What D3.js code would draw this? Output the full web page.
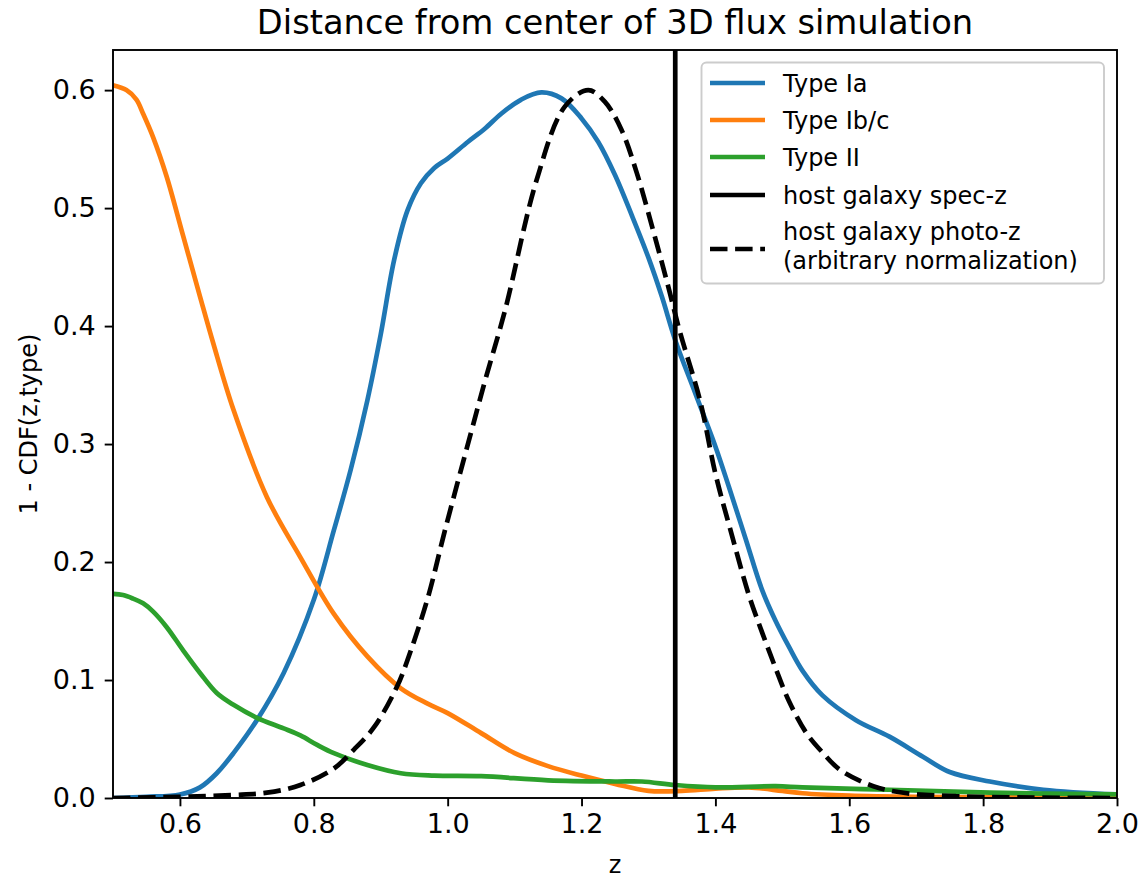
<!DOCTYPE html>
<html>
<head>
<meta charset="utf-8">
<script src="https://cdn.jsdelivr.net/npm/d3@7"></script>
<style>
  html, body { margin: 0; padding: 0; background: #fff; }
  svg { display: block; font-family: "DejaVu Sans", sans-serif; }
</style>
</head>
<body>
<svg id="chart" width="1141" height="879"></svg>
<script>
// ---------------- data ----------------
const titleText = "Distance from center of 3D flux simulation";
const xLabel = "z";
const yLabel = "1 - CDF(z,type)";
const xTicks = [0.6, 0.8, 1.0, 1.2, 1.4, 1.6, 1.8, 2.0];
const yTicks = [0.0, 0.1, 0.2, 0.3, 0.4, 0.5, 0.6];
const specZ = 1.34;

const zIa = [0.50, 0.55, 0.60, 0.63, 0.655, 0.68, 0.715, 0.755, 0.80, 0.83, 0.855, 0.88, 0.90, 0.92, 0.94, 0.96, 0.98, 1.00, 1.03, 1.055, 1.08, 1.11, 1.14, 1.17, 1.20, 1.225, 1.25, 1.275, 1.30, 1.32, 1.34, 1.37, 1.40, 1.42, 1.445, 1.47, 1.49, 1.51, 1.53, 1.56, 1.61, 1.66, 1.71, 1.75, 1.81, 1.89, 2.00];
const vIa = [0.000, 0.001, 0.003, 0.009, 0.021, 0.038, 0.066, 0.106, 0.168, 0.227, 0.278, 0.337, 0.393, 0.456, 0.498, 0.521, 0.534, 0.542, 0.556, 0.567, 0.580, 0.592, 0.598, 0.593, 0.576, 0.556, 0.528, 0.494, 0.458, 0.425, 0.388, 0.343, 0.298, 0.264, 0.220, 0.176, 0.150, 0.128, 0.108, 0.087, 0.066, 0.052, 0.035, 0.022, 0.014, 0.007, 0.003];

const zIbc = [0.50, 0.52, 0.535, 0.545, 0.56, 0.58, 0.605, 0.63, 0.65, 0.68, 0.73, 0.78, 0.83, 0.88, 0.93, 0.97, 1.00, 1.05, 1.10, 1.15, 1.20, 1.25, 1.30, 1.35, 1.40, 1.45, 1.50, 1.53, 1.60, 1.70, 2.00];
const vIbc = [0.604, 0.600, 0.592, 0.580, 0.560, 0.527, 0.476, 0.425, 0.385, 0.329, 0.255, 0.204, 0.156, 0.120, 0.093, 0.080, 0.072, 0.055, 0.038, 0.027, 0.019, 0.012, 0.006, 0.006, 0.008, 0.009, 0.006, 0.004, 0.002, 0.001, 0.0005];

const zII = [0.50, 0.515, 0.53, 0.545, 0.56, 0.58, 0.605, 0.63, 0.655, 0.68, 0.715, 0.755, 0.78, 0.805, 0.83, 0.88, 0.93, 0.98, 1.05, 1.15, 1.25, 1.29, 1.34, 1.40, 1.49, 1.53, 1.66, 1.81, 2.00];
const vII = [0.173, 0.172, 0.169, 0.165, 0.158, 0.145, 0.125, 0.106, 0.089, 0.079, 0.068, 0.059, 0.053, 0.045, 0.038, 0.028, 0.021, 0.019, 0.0185, 0.015, 0.014, 0.014, 0.011, 0.009, 0.010, 0.009, 0.007, 0.0045, 0.003];

const zPhoto = [0.50, 0.60, 0.68, 0.73, 0.78, 0.83, 0.86, 0.89, 0.924, 0.945, 0.971, 0.996, 1.035, 1.056, 1.086, 1.133, 1.175, 1.21, 1.235, 1.26, 1.283, 1.307, 1.327, 1.347, 1.377, 1.40, 1.425, 1.45, 1.47, 1.49, 1.51, 1.536, 1.561, 1.586, 1.636, 1.686, 1.76, 1.85, 2.00];
const vPhoto = [0.000, 0.001, 0.0025, 0.0045, 0.011, 0.025, 0.041, 0.060, 0.094, 0.125, 0.171, 0.227, 0.310, 0.354, 0.414, 0.524, 0.586, 0.600, 0.590, 0.566, 0.529, 0.481, 0.439, 0.395, 0.337, 0.275, 0.222, 0.172, 0.140, 0.110, 0.082, 0.055, 0.038, 0.024, 0.010, 0.004, 0.0015, 0.0005, 0.000];

const seriesNames = ["Type Ia", "Type Ib/c", "Type II"];
const seriesColors = ["#1f77b4", "#ff7f0e", "#2ca02c"];
const legendLabels = ["Type Ia", "Type Ib/c", "Type II", "host galaxy spec-z", ["host galaxy photo-z", "(arbitrary normalization)"]];

// ---------------- layout ----------------
const W = 1141, H = 879;
const m = { left: 113, right: 1117, top: 50, bottom: 798 };
const LW = 4.7;

const svg = d3.select("#chart");
const x = d3.scaleLinear().domain([0.5, 2.0]).range([m.left, m.right]);
const y = d3.scaleLinear().domain([0, 0.634]).range([m.bottom, m.top]);

svg.append("defs").append("clipPath").attr("id", "clip")
  .append("rect").attr("x", m.left).attr("y", m.top)
  .attr("width", m.right - m.left).attr("height", m.bottom - m.top);

const line = d3.line().x(d => x(d[0])).y(d => y(d[1])).curve(d3.curveCatmullRom.alpha(0.5));
const plot = svg.append("g").attr("clip-path", "url(#clip)");

const seriesData = [
  d3.zip(zIa, vIa),
  d3.zip(zIbc, vIbc),
  d3.zip(zII, vII)
];
seriesData.forEach((d, i) => {
  plot.append("path").datum(d).attr("d", line)
    .attr("fill", "none").attr("stroke", seriesColors[i])
    .attr("stroke-width", LW).attr("stroke-linejoin", "round");
});

plot.append("line")
  .attr("x1", x(specZ)).attr("x2", x(specZ))
  .attr("y1", m.top).attr("y2", m.bottom)
  .attr("stroke", "#000").attr("stroke-width", LW);

plot.append("path").datum(d3.zip(zPhoto, vPhoto)).attr("d", line)
  .attr("fill", "none").attr("stroke", "#000")
  .attr("stroke-width", LW).attr("stroke-dasharray", "17.5,7.6");

// axes
const fmt = d3.format(".1f");
const xAxis = svg.append("g").attr("transform", `translate(0,${m.bottom})`)
  .call(d3.axisBottom(x).tickValues(xTicks).tickFormat(fmt).tickSizeOuter(0).tickSize(8.3).tickPadding(8));
const yAxis = svg.append("g").attr("transform", `translate(${m.left},0)`)
  .call(d3.axisLeft(y).tickValues(yTicks).tickFormat(fmt).tickSizeOuter(0).tickSize(8.3).tickPadding(9));
[xAxis, yAxis].forEach(a => {
  a.select(".domain").remove();
  a.selectAll(".tick line").attr("stroke", "#000").attr("stroke-width", 1.9);
  a.selectAll(".tick text").attr("fill", "#000").style("font-size", "27px").style("font-family", "DejaVu Sans");
});

// frame
svg.append("rect").attr("x", m.left).attr("y", m.top)
  .attr("width", m.right - m.left).attr("height", m.bottom - m.top)
  .attr("fill", "none").attr("stroke", "#000").attr("stroke-width", 1.9);

// title & labels
svg.append("text").attr("x", (m.left + m.right) / 2).attr("y", 34)
  .attr("text-anchor", "middle").style("font-size", "33.7px").text(titleText);
svg.append("text").attr("x", (m.left + m.right) / 2).attr("y", 873)
  .attr("text-anchor", "middle").style("font-size", "24px").text(xLabel);
svg.append("text").attr("transform", `translate(37,${(m.top + m.bottom) / 2}) rotate(-90)`)
  .attr("text-anchor", "middle").style("font-size", "24px").text(yLabel);

// legend
const lg = svg.append("g");
lg.append("rect").attr("x", 701.5).attr("y", 62.5).attr("width", 402.5).attr("height", 221)
  .attr("rx", 5).attr("fill", "#fff").attr("fill-opacity", 0.8)
  .attr("stroke", "#cccccc").attr("stroke-width", 1.9);
const rowY = [83, 120, 157, 195, 249];
const legColors = [...seriesColors, "#000", "#000"];
legendLabels.forEach((lab, i) => {
  lg.append("line").attr("x1", 710).attr("x2", 765).attr("y1", rowY[i]).attr("y2", rowY[i])
    .attr("stroke", legColors[i]).attr("stroke-width", LW)
    .attr("stroke-dasharray", i === 4 ? "17.5,7.6" : null);
  if (Array.isArray(lab)) {
    lab.forEach((t, j) => {
      lg.append("text").attr("x", 783).attr("y", 240 + j * 28.5)
        .style("font-size", "24px").text(t);
    });
  } else {
    lg.append("text").attr("x", 783).attr("y", rowY[i] + 8.5)
      .style("font-size", "24px").text(lab);
  }
});
</script>
</body>
</html>
